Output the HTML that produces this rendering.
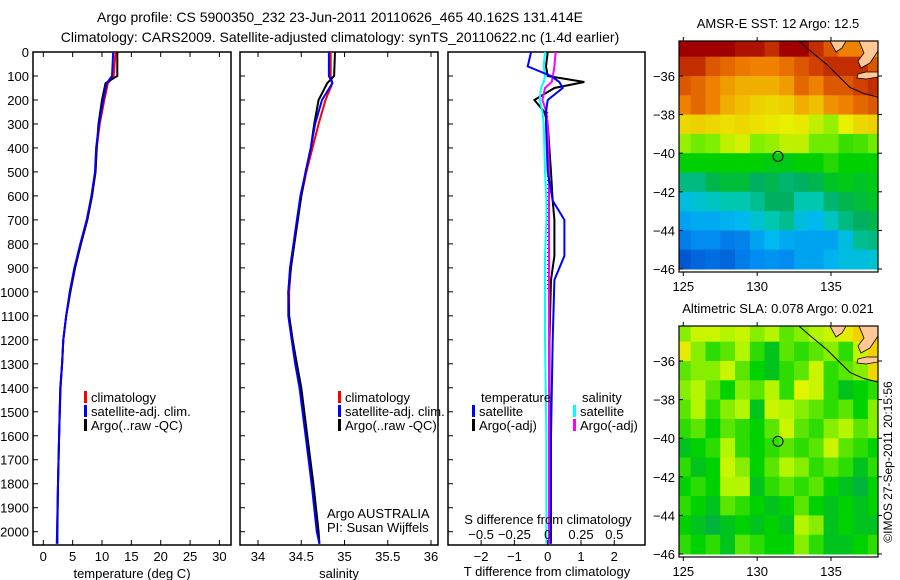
<!DOCTYPE html>
<html><head><meta charset="utf-8"><style>
body{margin:0;background:#fff}
svg{display:block;font-family:"Liberation Sans",sans-serif}
</style></head><body>
<svg id="fig" width="900" height="580" viewBox="0 0 900 580" xmlns="http://www.w3.org/2000/svg">
<text x="340" y="22" font-size="14" text-anchor="middle">Argo profile: CS 5900350_232 23-Jun-2011 20110626_465 40.162S 131.414E</text>
<text x="340" y="42" font-size="14" text-anchor="middle">Climatology: CARS2009. Satellite-adjusted climatology: synTS_20110622.nc (1.4d earlier)</text>
<g id="p1"></g>
<g id="p2"></g>
<g id="p3"></g>
<g id="m1"></g>
<g id="m2"></g>
<text transform="translate(892,462) rotate(-90)" font-size="12" text-anchor="middle">©IMOS 27-Sep-2011 20:15:56</text>
</svg>
<script>
// ---- data ----
const depths = [0,100,130,200,300,400,500,600,700,800,900,1000,1100,1200,1300,1400,1600,1800,2000,2050];
const tempClim = [12.3,12.0,11.0,10.4,9.6,9.1,8.9,8.3,7.5,6.4,5.4,4.6,3.9,3.4,3.2,2.9,2.7,2.5,2.35,2.3];
const tempSat  = [11.9,11.7,10.8,10.2,9.5,9.0,8.8,8.2,7.4,6.3,5.3,4.5,3.9,3.4,3.2,2.95,2.7,2.5,2.35,2.3];
const tempArgo = [12.6,12.6,10.6,10.0,9.4,9.1,8.9,8.3,7.5,6.4,5.4,4.6,3.9,3.4,3.2,2.9,2.7,2.5,2.4,2.4];
const salClim = [34.84,34.84,34.86,34.78,34.70,34.63,34.56,34.50,34.46,34.42,34.38,34.36,34.36,34.40,34.44,34.49,34.56,34.63,34.69,34.71];
const salSat  = [34.82,34.82,34.86,34.74,34.66,34.61,34.55,34.49,34.45,34.41,34.37,34.35,34.35,34.39,34.43,34.48,34.55,34.62,34.68,34.71];
const salArgo = [34.89,34.88,34.80,34.70,34.65,34.61,34.55,34.50,34.46,34.42,34.38,34.35,34.36,34.40,34.45,34.50,34.57,34.64,34.70,34.71];
const diffDepths = [0,60,100,125,150,200,250,300,500,620,700,850,950,1200,1600,2050];
const tDiffSat  = [-0.5,-0.6,0.1,0.35,0.45,0.0,-0.05,-0.05,0.0,0.15,0.5,0.5,0.2,0.15,0.1,0.1];
const tDiffArgo = [0.0,-0.05,0.0,1.1,0.2,-0.4,-0.1,0.0,0.1,0.15,0.2,0.2,0.1,0.05,0.05,0.05];
const sDiffSat  = [-0.02,-0.03,-0.02,-0.03,-0.05,-0.06,-0.04,-0.03,-0.02,-0.01,-0.01,-0.02,-0.02,-0.02,-0.01,-0.01];
const sDiffArgo = [0.06,0.05,0.04,0.03,-0.02,-0.04,-0.01,0.0,0.01,0.01,0.01,0.01,0.01,0.01,0.01,0.01];
const depthTicks = [0,100,200,300,400,500,600,700,800,900,1000,1100,1200,1300,1400,1500,1600,1700,1800,1900,2000];
const tempTicks = [0,5,10,15,20,25,30];
const salTicks = [34,34.5,35,35.5,36];
const tDiffTicks = [-2,-1,0,1,2];
const sDiffTicks = [-0.5,-0.25,0,0.25,0.5];
const mapLats = [-34.5,-35.5,-36.5,-37.5,-38.5,-39.5,-40.5,-41.5,-42.5,-43.5,-44.5,-45.5];
const mapLons = [125,126,127,128,129,130,131,132,133,134,135,136,137,138];
const sstGrid = [
[16,16,16,16,15.8,15.8,15.5,16,16,15.5,15,14.5,14.5,14],
[15.5,15.5,15,14.8,14.6,14.5,14.5,14.7,15,15.3,15.5,15.5,15.5,15],
[15,14.8,14.5,14.2,14,14,14,14.2,14.8,14.5,15,15,15.3,15.5],
[14.5,14.8,14.5,14,13.8,13.6,13.5,13.6,14,13.8,14.3,14.5,14.8,15],
[13.5,13.6,13.5,13.4,13.5,13.4,13.3,13.2,13.3,13,12.8,13.2,13.5,13.6],
[12.8,12.6,12.7,13,13.1,12.7,12.8,13,13,12.6,12.6,12.3,12.4,12.6],
[12,12,12,12,12,12,11.9,11.9,12,12,12.2,12,12,12],
[11.3,11.3,11.6,11.7,11.7,11.5,11.6,11.4,11.5,11.6,11.8,11.9,11.8,11.9],
[10.7,10.8,10.9,11,11,11.2,11.5,11.5,11,11,11.4,11.6,11.7,11.8],
[10.3,10.4,10.4,10.5,10.6,10.8,11,11.2,10.7,10.6,10.9,11.3,11.5,11.6],
[9.8,10,10,9.8,9.9,10.3,10.6,10.4,10.3,10.3,10.3,10.7,11.2,11.3],
[9.3,9.5,9.6,9.5,9.8,10,10.1,10,10.3,10.3,10.5,10.7,10.7,10.8]];
const slaGrid = [
[.5,.6,.6,.55,.6,.5,.55,.45,.5,.55,.6,.7,.85,.9],
[.7,.5,.4,.45,.55,.4,.3,.45,.4,.45,.5,.4,.6,.85],
[.45,.5,.5,.6,.45,.35,.3,.4,.45,.6,.4,.45,.5,.8],
[.5,.55,.45,.35,.5,.45,.55,.4,.65,.6,.4,.3,.35,.4],
[.45,.55,.4,.5,.55,.3,.6,.55,.5,.45,.4,.45,.35,.5],
[.4,.45,.35,.45,.4,.35,.45,.6,.45,.4,.5,.55,.45,.5],
[.3,.35,.4,.55,.4,.35,.4,.45,.4,.45,.6,.45,.4,.35],
[.4,.3,.35,.6,.5,.35,.45,.55,.5,.4,.45,.4,.3,.4],
[.35,.4,.35,.55,.55,.3,.4,.45,.4,.45,.35,.3,.25,.35],
[.4,.35,.3,.45,.4,.35,.3,.35,.45,.35,.3,.35,.3,.35],
[.35,.3,.25,.3,.35,.3,.35,.3,.55,.5,.3,.35,.3,.3],
[.4,.35,.4,.3,.45,.4,.35,.35,.5,.4,.3,.3,.35,.4]];
const coastLon = [132.85,133.6,134.7,135.5,136.3,137.2,138.2];
const coastLat = [-34.2,-34.7,-35.4,-36.0,-36.6,-36.9,-37.1];
const argoLon = 131.414, argoLat = -40.162;

// ---- helpers ----
const NS='http://www.w3.org/2000/svg';
function mk(parent,tag,attrs){const e=document.createElementNS(NS,tag);for(const k in attrs)e.setAttribute(k,attrs[k]);parent.appendChild(e);return e;}
const Y0=52, YS=(531.7-52)/2000;
const yD = d => Y0 + d*YS;
const PT=52, PB=545;
const xT = v => 43.3 + v*5.87;
const xS = v => 258 + (v-34)*86.5;
const xTd = v => 547.7 + v*33.3;
const xSd = v => 547.7 + v*133.2;

function frame(g,x0,x1){
  const r=mk(g,'rect',{x:x0,y:PT,width:x1-x0,height:PB-PT,fill:'none',stroke:'#000','stroke-width':1.5});
  
  
  for(const d of depthTicks){
    const t=mk(g,'line',{x1:x0,x2:x0+5,y1:yD(d),y2:yD(d),stroke:'#000'});
    
    
  }
}
function xticks(g,ticks,fx,ly,both){
  for(const v of ticks){
    const x=fx(v);
    const t=mk(g,'line',{x1:x,x2:x,y1:PB,y2:PB-5,stroke:'#000'});
    
    
    if(both){const t2=mk(g,'line',{x1:x,x2:x,y1:PT,y2:PT+5,stroke:'#000'});
      
      }
    const l=mk(g,'text',{x:x,y:ly,'font-size':13,'text-anchor':'middle'});
    l.textContent=String(v).replace('-','\u2212');
    
    
  }
}
function line(g,xs,ys,fx,color,name,w){
  const pts=xs.map((v,i)=>fx(v).toFixed(1)+','+yD(ys[i]).toFixed(1)).join(' ');
  const p=mk(g,'polyline',{points:pts,fill:'none',stroke:color,'stroke-width':w||2});
  
  
}
function txt(g,x,y,s,size,name,anchor){
  const t=mk(g,'text',{x:x,y:y,'font-size':size,'text-anchor':anchor||'start'});
  t.textContent=s;
  
  
  return t;
}
function legend(g,x,y,color,label){
  const m=mk(g,'rect',{x:x,y:y-11,width:3,height:12,fill:color});
  
  
  txt(g,x+7,y,label,13,'legend-entry');
}

// panel 1
const g1=document.getElementById('p1');
frame(g1,33,231);
for(const d of depthTicks){txt(g1,29,yD(d)+5,String(d),13,'depth-tick-label','end');}
xticks(g1,tempTicks,xT,561,true);
txt(g1,132,578,'temperature (deg C)',13,'x-axis-title','middle');
line(g1,tempClim,depths,xT,'#ff0000','temp-climatology');
line(g1,tempArgo,depths,xT,'#000000','temp-argo');
line(g1,tempSat,depths,xT,'#0000ff','temp-satellite');
legend(g1,84,402,'#ff0000','climatology');
legend(g1,84,416,'#0000ff','satellite-adj. clim.');
legend(g1,84,430,'#000000','Argo(..raw -QC)');

// panel 2
const g2=document.getElementById('p2');
frame(g2,240,438);
xticks(g2,salTicks,xS,561,true);
txt(g2,339,578,'salinity',13,'x-axis-title','middle');
line(g2,salClim,depths,xS,'#ff0000','sal-climatology');
line(g2,salArgo,depths,xS,'#000000','sal-argo');
line(g2,salSat,depths,xS,'#0000ff','sal-satellite');
legend(g2,338,402,'#ff0000','climatology');
legend(g2,338,416,'#0000ff','satellite-adj. clim.');
legend(g2,338,430,'#000000','Argo(..raw -QC)');
txt(g2,327,518,'Argo AUSTRALIA',13,'credit-argo-australia');
txt(g2,327,532,'PI: Susan Wijffels',13,'credit-pi');

// panel 3
const g3=document.getElementById('p3');
frame(g3,448,645);
const z=mk(g3,'line',{x1:xTd(0),x2:xTd(0),y1:yD(250),y2:yD(1000),stroke:'#000','stroke-dasharray':'1 3'});


line(g3,tDiffArgo,diffDepths,xTd,'#000000','tdiff-argo');
line(g3,sDiffArgo,diffDepths,xSd,'#ff00ff','sdiff-argo');
line(g3,sDiffSat,diffDepths,xSd,'#00ffff','sdiff-satellite');
line(g3,tDiffSat,diffDepths,xTd,'#0000ff','tdiff-satellite');
txt(g3,481,402,'temperature',13,'legend-heading-temperature');
legend(g3,472,416,'#0000ff','satellite');
legend(g3,472,430,'#000000','Argo(-adj)');
txt(g3,582,402,'salinity',13,'legend-heading-salinity');
legend(g3,573,416,'#00ffff','satellite');
legend(g3,573,430,'#ff00ff','Argo(-adj)');
txt(g3,548,524,'S difference from climatology',13,'s-axis-title','middle');
for(const v of sDiffTicks){txt(g3,xSd(v),539,String(v).replace('-','\u2212'),13,'s-tick-label','middle');}
xticks(g3,tDiffTicks,xTd,561,false);
txt(g3,547,576,'T difference from climatology',13,'x-axis-title','middle');

// maps
function lerpColor(stops,v){
  if(v<=stops[0][0])return 'rgb('+stops[0][1].join(',')+')';
  for(let i=1;i<stops.length;i++){if(v<=stops[i][0]){const a=stops[i-1],b=stops[i],t=(v-a[0])/(b[0]-a[0]);
    return 'rgb('+a[1].map((c,k)=>Math.round(c+(b[1][k]-c)*t)).join(',')+')';}}
  const l=stops[stops.length-1][1];return 'rgb('+l.join(',')+')';
}
const sstStops=[[9,[0,64,200]],[10,[0,140,240]],[10.6,[0,185,240]],[11,[0,200,176]],[11.5,[0,176,96]],[12,[0,208,0]],[12.7,[128,240,0]],[13.2,[232,240,0]],[13.8,[240,192,0]],[14.5,[240,128,0]],[15.3,[208,64,0]],[16,[160,0,0]]];
const slaStops=[[0.25,[0,180,60]],[0.35,[0,210,0]],[0.45,[90,230,0]],[0.55,[180,245,0]],[0.65,[225,245,0]],[0.8,[240,215,0]],[0.9,[250,200,0]]];
function drawMap(id,y0,title,grid,stops,name){
  const g=document.getElementById(id);
  const x0=679,x1=878,y1=y0+231;
  const lx=lon=>683.3+(lon-125)*14.77;
  const ly=lat=>y0+35+(-36-lat)*19.3;
  const cl=mk(g,'clipPath',{id:'clip'+id});mk(cl,'rect',{x:x0,y:y0,width:x1-x0,height:y1-y0});
  const cells=mk(g,'g',{'clip-path':'url(#clip'+id+')'});
  mapLats.forEach((lat,r)=>mapLons.forEach((lon,c)=>{
    const e=mk(cells,'rect',{x:lx(lon-0.5).toFixed(1),y:ly(lat+0.5).toFixed(1),width:15.3,height:19.8,fill:lerpColor(stops,grid[r][c])});
    
    
  }));
  const cpts=coastLon.map((lon,i)=>lx(lon).toFixed(1)+','+ly(coastLat[i]).toFixed(1)).join(' ');
  const co=mk(cells,'polyline',{points:cpts,fill:'none',stroke:'#000','stroke-width':1});
  
  
  const la=mk(cells,'polygon',{points:`830,${y0} 846,${y0} 842,${y0+7} 836,${y0+11}`,fill:'#ffc896',stroke:'#000','stroke-width':0.8});
  
  
  const pen=mk(cells,'polygon',{points:`859,${y0} 878,${y0} 878,${y0+10} 870,${y0+22} 861,${y0+27} 858,${y0+20} 864,${y0+12}`,fill:'#ffc896',stroke:'#000','stroke-width':0.8});
  
  
  const ki=mk(cells,'polygon',{points:`858,${y0+33} 866,${y0+31} 878,${y0+31} 878,${y0+36} 866,${y0+38} 857,${y0+37}`,fill:'#ffc896',stroke:'#000','stroke-width':0.8});
  
  
  const fr=mk(g,'rect',{x:x0,y:y0,width:x1-x0,height:y1-y0,fill:'none',stroke:'#000','stroke-width':1.2});
  
  
  for(const lat of [-36,-38,-40,-42,-44,-46]){
    const t=mk(g,'line',{x1:x0,x2:x0+4,y1:ly(lat),y2:ly(lat),stroke:'#000'});
    
    
    const t2=mk(g,'line',{x1:x1,x2:x1+4,y1:ly(lat),y2:ly(lat),stroke:'#000'});
    
    
    txt(g,675,ly(lat)+5,String(lat).replace('-','\u2212'),13,'lat-tick-label','end');
  }
  for(const lon of [125,130,135]){
    const t=mk(g,'line',{x1:lx(lon),x2:lx(lon),y1:y1,y2:y1+4,stroke:'#000'});
    
    
    const t2=mk(g,'line',{x1:lx(lon),x2:lx(lon),y1:y0,y2:y0-4,stroke:'#000'});
    
    
    txt(g,lx(lon),y1+19,String(lon),13,'lon-tick-label','middle');
  }
  const c=mk(g,'circle',{cx:lx(argoLon),cy:ly(argoLat),r:5,fill:'none',stroke:'#000','stroke-width':1});
  
  
  txt(g,778,y0-13,title,13,'map-title','middle');
}
drawMap('m1',41,'AMSR-E SST: 12 Argo: 12.5',sstGrid,sstStops,'sst');
drawMap('m2',326,'Altimetric SLA: 0.078 Argo: 0.021',slaGrid,slaStops,'sla');
</script>
</body></html>
